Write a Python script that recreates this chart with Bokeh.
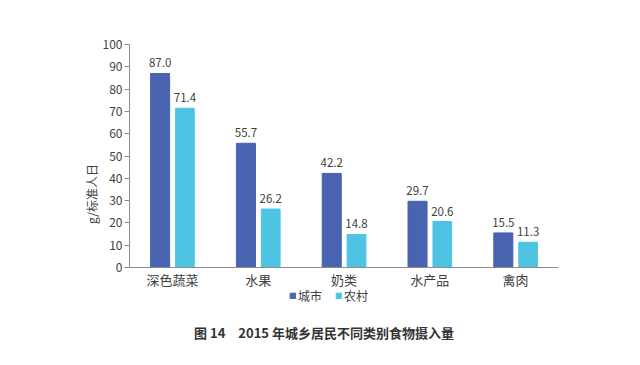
from bokeh.plotting import figure
from bokeh.models import ColumnDataSource, FactorRange, Range1d, Legend, LegendItem, Label, FixedTicker
from bokeh.transform import dodge
from bokeh.core.properties import value
from bokeh.embed import file_html
from bokeh.resources import INLINE

categories = ["深色蔬菜", "水果", "奶类", "水产品", "禽肉"]
city = [87.0, 55.7, 42.2, 29.7, 15.5]
rural = [71.4, 26.2, 14.8, 20.6, 11.3]
series_names = ["城市", "农村"]
y_ticks = [0, 10, 20, 30, 40, 50, 60, 70, 80, 90, 100]
title_text = "图 14　2015 年城乡居民不同类别食物摄入量"
y_label = "g/标准人日"

CITY_C = "#4863B0"
RURAL_C = "#4EC4E4"
FONT = "Noto Sans CJK SC"

# layout geometry (pixels)
H, W = 365, 640
TOP, BOTTOM_BORDER = 44, 22
ZERO_PX = 267
frame_bottom = H - BOTTOM_BORDER
px_per_unit = (ZERO_PX - TOP) / 100.0
y_min = -(frame_bottom - ZERO_PX) / px_per_unit

src = ColumnDataSource(dict(
    cat=categories, city=city, rural=rural,
    city_lbl=[f"{v:.1f}" for v in city],
    rural_lbl=[f"{v:.1f}" for v in rural],
))

p = figure(width=W, height=H, x_range=FactorRange(*categories),
           y_range=Range1d(y_min, 100), output_backend="svg", toolbar_location=None,
           min_border_left=129, min_border_right=W - 558, min_border_top=TOP,
           min_border_bottom=BOTTOM_BORDER)
p.outline_line_color = None
p.grid.grid_line_color = None
p.x_range.range_padding = 0
p.background_fill_color = "white"

r1 = p.vbar(x=dodge("cat", -0.143, range=p.x_range), top="city", width=0.222,
            source=src, color=CITY_C)
r2 = p.vbar(x=dodge("cat", 0.146, range=p.x_range), top="rural", width=0.218,
            source=src, color=RURAL_C)

p.text(x=dodge("cat", -0.143, range=p.x_range), y="city", text="city_lbl", source=src,
       text_align="center", text_baseline="bottom", y_offset=-6,
       text_font=value(FONT), text_font_size="11.5px", text_color="#404040")
p.text(x=dodge("cat", 0.146, range=p.x_range), y="rural", text="rural_lbl", source=src,
       text_align="center", text_baseline="bottom", y_offset=-6,
       text_font=value(FONT), text_font_size="11.5px", text_color="#404040")

ya = p.yaxis[0]
ya.ticker = FixedTicker(ticks=y_ticks)
ya.bounds = (0, 100)
ya.axis_line_color = "#8c8c8c"
ya.major_tick_line_color = "#8c8c8c"
ya.major_tick_in = 0
ya.major_tick_out = 5
ya.minor_tick_line_color = None
ya.major_label_standoff = 2
ya.major_label_text_font = FONT
ya.major_label_text_font_size = "12px"
ya.major_label_text_color = "#404040"
ya.axis_label = y_label
ya.axis_label_text_font = FONT
ya.axis_label_text_font_size = "12px"
ya.axis_label_text_font_style = "normal"
ya.axis_label_text_color = "#404040"
ya.axis_label_standoff = 0

xa = p.xaxis[0]
xa.fixed_location = 0
xa.axis_line_color = "#8c8c8c"
xa.major_tick_line_color = None
xa.minor_tick_line_color = None
xa.major_tick_out = 0
xa.major_tick_in = 0
xa.major_label_standoff = 2
xa.major_label_text_font = FONT
xa.major_label_text_font_size = "13px"
xa.major_label_text_color = "#404040"

legend = Legend(items=[LegendItem(label=series_names[0], renderers=[r1]),
                       LegendItem(label=series_names[1], renderers=[r2])],
                orientation="horizontal", location=(160, frame_bottom - 304),
                glyph_width=7, glyph_height=7, label_height=12,
                label_text_font=FONT, label_text_font_size="12px",
                label_text_color="#404040", label_standoff=2, spacing=13,
                padding=0, margin=0, border_line_color=None,
                background_fill_alpha=0)
p.add_layout(legend, "center")

title = Label(x=2.5, y=-(332 - ZERO_PX) / px_per_unit, text=title_text,
              text_align="center", text_baseline="middle", x_offset=-20,
              text_font=FONT, text_font_size="13px",
              text_font_style="bold", text_color="#333333")
p.add_layout(title)

open("out.html", "w").write(file_html(p, INLINE))
